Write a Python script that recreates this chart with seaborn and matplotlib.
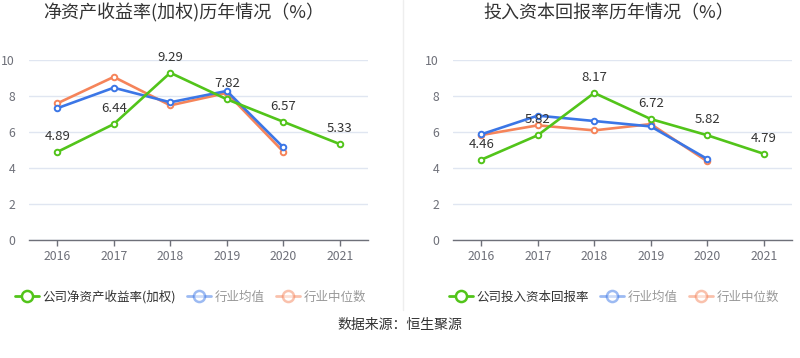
import matplotlib
matplotlib.use("Agg")
import matplotlib.pyplot as plt
import seaborn as sns
import pandas as pd
from matplotlib.lines import Line2D

years = ["2016", "2017", "2018", "2019", "2020", "2021"]

roe_company = [4.89, 6.44, 9.29, 7.82, 6.57, 5.33]
roe_mean = [7.32, 8.46, 7.65, 8.28, 5.15]
roe_median = [7.59, 9.06, 7.48, 8.17, 4.91]

roic_company = [4.46, 5.82, 8.17, 6.72, 5.82, 4.79]
roic_mean = [5.87, 6.91, 6.61, 6.31, 4.50]
roic_median = [5.83, 6.37, 6.09, 6.44, 4.37]

titles = ["净资产收益率(加权)历年情况（%）", "投入资本回报率历年情况（%）"]
company_labels = ["公司净资产收益率(加权)", "公司投入资本回报率"]
mean_label = "行业均值"
median_label = "行业中位数"
source_text = "数据来源：恒生聚源"
yticks = [0, 2, 4, 6, 8, 10]

sns.set_theme(style="white")
plt.rcParams['font.family'] = ['Noto Sans CJK SC', 'DejaVu Sans']

GREEN = "#52C41A"
BLUE = "#3B76E6"
ORANGE = "#F5845A"

fig = plt.figure(figsize=(8, 3.58), dpi=100)
axes_rects = [
    [29 / 800, 1 - 240 / 358, 339 / 800, 180 / 358],
    [453 / 800, 1 - 240 / 358, 339 / 800, 180 / 358],
]
datasets = [
    (roe_company, roe_mean, roe_median),
    (roic_company, roic_mean, roic_median),
]
title_x = [184 / 800, 609 / 800]

for i, (rect, (comp, mean, med)) in enumerate(zip(axes_rects, datasets)):
    ax = fig.add_axes(rect)
    xs = list(range(len(years)))
    df_c = pd.DataFrame({"x": xs[:len(comp)], "y": comp})
    df_m = pd.DataFrame({"x": xs[:len(mean)], "y": mean})
    df_d = pd.DataFrame({"x": xs[:len(med)], "y": med})
    mk = dict(marker="o", markersize=4, markerfacecolor="white",
              markeredgewidth=1.4, linewidth=1.9)
    sns.lineplot(data=df_d, x="x", y="y", ax=ax, color=ORANGE,
                 markeredgecolor=ORANGE, **mk)
    sns.lineplot(data=df_m, x="x", y="y", ax=ax, color=BLUE,
                 markeredgecolor=BLUE, **mk)
    sns.lineplot(data=df_c, x="x", y="y", ax=ax, color=GREEN,
                 markeredgecolor=GREEN, zorder=5, **mk)
    for x, v in zip(df_c["x"], df_c["y"]):
        ax.annotate(f"{v:.2f}", (x, v), xytext=(0, 11), textcoords="offset points",
                    ha="center", va="center", fontsize=9.5, color="#333333", zorder=6)
    ax.set_xlim(-0.5, len(years) - 0.5)
    ax.set_ylim(0, 10)
    ax.set_xticks(xs)
    ax.set_xticklabels(years)
    ax.set_yticks(yticks)
    ax.set_xlabel("")
    ax.set_ylabel("")
    ax.grid(axis="y", color="#E0E6F1", linewidth=1)
    ax.set_axisbelow(True)
    for s in ["top", "right", "left"]:
        ax.spines[s].set_visible(False)
    ax.spines["bottom"].set_color("#6E7079")
    ax.spines["bottom"].set_linewidth(1)
    ax.tick_params(axis="x", length=4, width=1, color="#6E7079", colors="#6E7079",
                   labelsize=8.8, pad=3, bottom=True)
    ax.tick_params(axis="y", length=0, colors="#6E7079", labelsize=8.8, pad=10)
    for lbl in ax.get_yticklabels():
        lbl.set_horizontalalignment("right")
    fig.text(title_x[i], 1 - 13 / 358, titles[i], ha="center", va="center",
             fontsize=13, color="#333333")

    handles = [
        Line2D([0], [0], color=GREEN, marker="o", markersize=8, markerfacecolor="white",
               markeredgewidth=1.8, linewidth=2),
        Line2D([0], [0], color=BLUE, alpha=0.5, marker="o", markersize=8,
               markerfacecolor="white", markeredgewidth=1.8, linewidth=2),
        Line2D([0], [0], color=ORANGE, alpha=0.5, marker="o", markersize=8,
               markerfacecolor="white", markeredgewidth=1.8, linewidth=2),
    ]
    leg_x = [10 / 800, 444 / 800][i]
    leg = fig.legend(handles, [company_labels[i], mean_label, median_label],
                     loc="center left", bbox_to_anchor=(leg_x, 1 - 297 / 358),
                     ncol=3, frameon=False, fontsize=9, handlelength=1.9,
                     handletextpad=0.3, columnspacing=0.9, borderaxespad=0)
    texts = leg.get_texts()
    texts[0].set_color("#333333")
    texts[1].set_color("#999999")
    texts[2].set_color("#999999")

fig.add_artist(Line2D([403 / 800, 403 / 800], [1 - 310 / 358, 1], color="#EEEEEE",
                      linewidth=1, transform=fig.transFigure))
fig.text(0.5, 1 - 325 / 358, source_text, ha="center", va="center",
         fontsize=10, color="#333333")

fig.savefig("out.png", dpi=100, facecolor="white")
